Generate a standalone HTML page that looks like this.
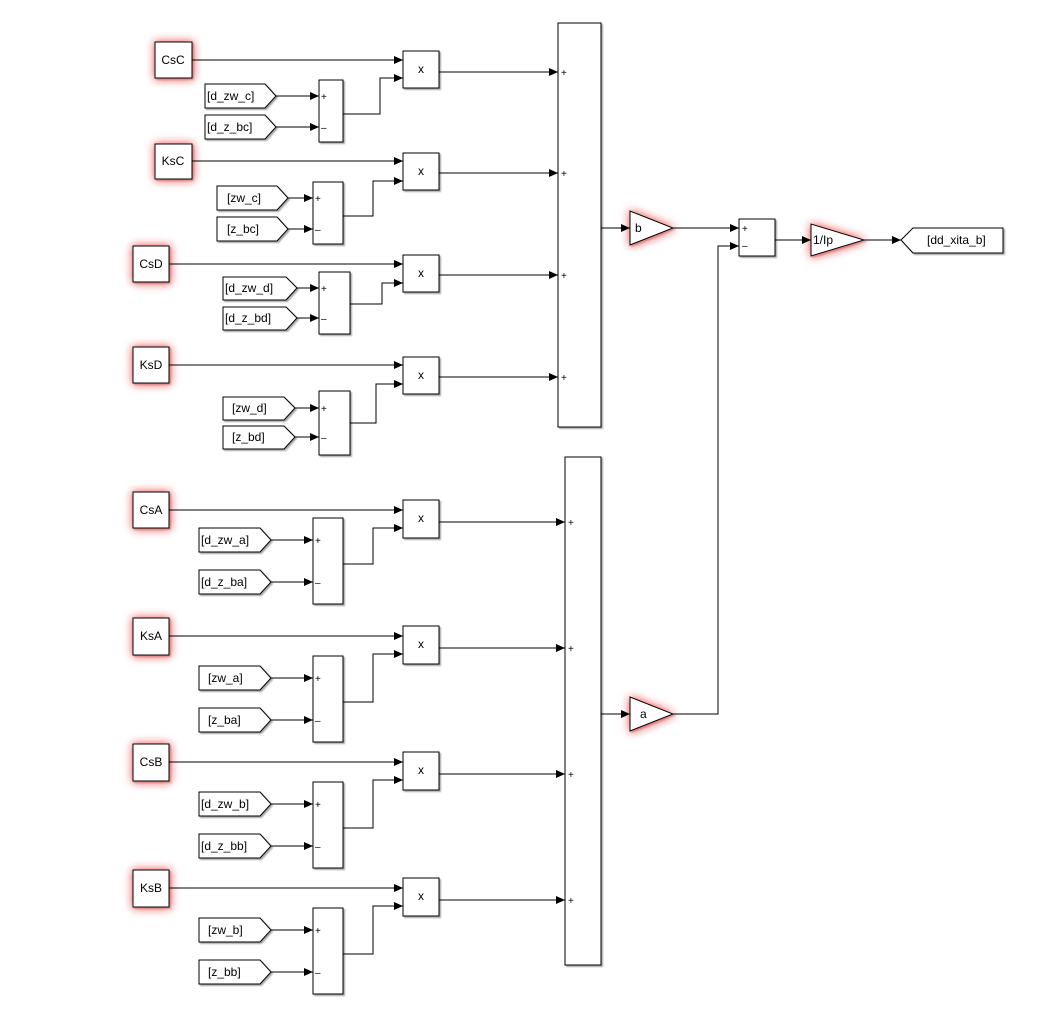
<!DOCTYPE html>
<html><head><meta charset="utf-8"><style>
html,body{margin:0;padding:0;background:#fff;}
svg{display:block;font-family:"Liberation Sans",Arial,sans-serif;}
.b{fill:#fff;stroke:#000;stroke-width:1;}
.l{fill:none;stroke:#000;stroke-width:1;}
.g{filter:url(#glow);}
text{font-size:12px;fill:#000;}
.s{font-size:10px;}
</style></head><body>
<svg width="1052" height="1023" viewBox="0 0 1052 1023" xmlns="http://www.w3.org/2000/svg">
<defs>
<marker id="a" markerUnits="userSpaceOnUse" markerWidth="10" markerHeight="10" refX="9" refY="5" orient="auto"><path d="M0,1 L9,5 L0,9 Z" fill="#000"/></marker>
<filter id="glow" x="-60%" y="-60%" width="220%" height="220%"><feDropShadow dx="0" dy="0" stdDeviation="4.5" flood-color="#ff2a2a" flood-opacity="0.75"/></filter>
<filter id="sh" x="-20%" y="-20%" width="150%" height="150%"><feDropShadow dx="1.5" dy="1.5" stdDeviation="0.8" flood-color="#000" flood-opacity="0.35"/></filter>
</defs>
<g filter="url(#sh)">
<rect class="b g" x="155" y="42" width="37" height="36"/><text x="173" y="64" text-anchor="middle">CsC</text>
<rect class="b" x="403" y="51" width="36" height="37"/><text x="421" y="73" text-anchor="middle">x</text>
<polygon class="b" points="205,84 265,84 276,96 265,108 205,108"/><text x="207" y="100">[d_zw_c]</text>
<polygon class="b" points="205,115 265,115 276,127 265,139 205,139"/><text x="207" y="131">[d_z_bc]</text>
<rect class="b" x="319" y="80" width="24" height="62"/><text class="s" x="321" y="100">+</text><text class="s" x="321" y="131">–</text>
<rect class="b g" x="155" y="144" width="37" height="35"/><text x="173" y="165" text-anchor="middle">KsC</text>
<rect class="b" x="403" y="153" width="36" height="37"/><text x="421" y="175" text-anchor="middle">x</text>
<polygon class="b" points="217,186 277,186 288,198 277,210 217,210"/><text x="227" y="202">[zw_c]</text>
<polygon class="b" points="217,217 277,217 288,229 277,241 217,241"/><text x="227" y="233">[z_bc]</text>
<rect class="b" x="313" y="182" width="30" height="62"/><text class="s" x="315" y="202">+</text><text class="s" x="315" y="233">–</text>
<rect class="b g" x="133" y="246" width="36" height="36"/><text x="151" y="268" text-anchor="middle">CsD</text>
<rect class="b" x="403" y="255" width="36" height="37"/><text x="421" y="277" text-anchor="middle">x</text>
<polygon class="b" points="223,277 286,277 297,288 286,300 223,300"/><text x="225" y="292">[d_zw_d]</text>
<polygon class="b" points="223,307 286,307 297,318 286,330 223,330"/><text x="225" y="322">[d_z_bd]</text>
<rect class="b" x="319" y="272" width="31" height="62"/><text class="s" x="321" y="292">+</text><text class="s" x="321" y="322">–</text>
<rect class="b g" x="133" y="347" width="36" height="36"/><text x="151" y="369" text-anchor="middle">KsD</text>
<rect class="b" x="403" y="357" width="36" height="37"/><text x="421" y="379" text-anchor="middle">x</text>
<polygon class="b" points="223,397 284,397 295,408 284,420 223,420"/><text x="232" y="412">[zw_d]</text>
<polygon class="b" points="223,426 284,426 295,437 284,449 223,449"/><text x="232" y="441">[z_bd]</text>
<rect class="b" x="319" y="391" width="31" height="64"/><text class="s" x="321" y="412">+</text><text class="s" x="321" y="441">–</text>
<rect class="b" x="558" y="23" width="43" height="404"/>
<text class="s" x="561" y="76">+</text><text class="s" x="561" y="177">+</text><text class="s" x="561" y="279">+</text><text class="s" x="561" y="381">+</text>
<polygon class="b g" points="630,211 630,245 673,228"/><text x="635" y="232">b</text>
<rect class="b" x="739" y="219" width="36" height="37"/><text class="s" x="742" y="232">+</text><text class="s" x="742" y="249">–</text>
<polygon class="b g" points="811,224 811,256 864,240"/><text x="813" y="244">1/Ip</text>
<polygon class="b" points="901,240 913,228 1003,228 1003,253 913,253"/><text x="927" y="244">[dd_xita_b]</text>
<rect class="b g" x="133" y="492" width="36" height="36"/><text x="151" y="514" text-anchor="middle">CsA</text>
<rect class="b" x="403" y="500" width="36" height="38"/><text x="421" y="522" text-anchor="middle">x</text>
<polygon class="b" points="199,528 260,528 271,540 260,552 199,552"/><text x="201" y="544">[d_zw_a]</text>
<polygon class="b" points="199,570 260,570 271,582 260,594 199,594"/><text x="201" y="586">[d_z_ba]</text>
<rect class="b" x="313" y="518" width="30" height="86"/><text class="s" x="315" y="544">+</text><text class="s" x="315" y="586">–</text>
<rect class="b g" x="133" y="618" width="36" height="37"/><text x="151" y="640" text-anchor="middle">KsA</text>
<rect class="b" x="403" y="626" width="36" height="38"/><text x="421" y="648" text-anchor="middle">x</text>
<polygon class="b" points="199,666 260,666 271,678 260,690 199,690"/><text x="208" y="682">[zw_a]</text>
<polygon class="b" points="199,708 260,708 271,720 260,732 199,732"/><text x="208" y="724">[z_ba]</text>
<rect class="b" x="313" y="656" width="30" height="86"/><text class="s" x="315" y="682">+</text><text class="s" x="315" y="724">–</text>
<rect class="b g" x="133" y="744" width="36" height="37"/><text x="151" y="766" text-anchor="middle">CsB</text>
<rect class="b" x="403" y="752" width="36" height="38"/><text x="421" y="774" text-anchor="middle">x</text>
<polygon class="b" points="199,792 260,792 271,804 260,816 199,816"/><text x="201" y="808">[d_zw_b]</text>
<polygon class="b" points="199,834 260,834 271,846 260,858 199,858"/><text x="201" y="850">[d_z_bb]</text>
<rect class="b" x="313" y="782" width="30" height="86"/><text class="s" x="315" y="808">+</text><text class="s" x="315" y="850">–</text>
<rect class="b g" x="133" y="870" width="36" height="37"/><text x="151" y="892" text-anchor="middle">KsB</text>
<rect class="b" x="403" y="878" width="36" height="38"/><text x="421" y="900" text-anchor="middle">x</text>
<polygon class="b" points="199,918 260,918 271,930 260,942 199,942"/><text x="208" y="934">[zw_b]</text>
<polygon class="b" points="199,960 260,960 271,972 260,984 199,984"/><text x="208" y="976">[z_bb]</text>
<rect class="b" x="313" y="908" width="30" height="86"/><text class="s" x="315" y="934">+</text><text class="s" x="315" y="976">–</text>
<rect class="b" x="565" y="457" width="36" height="508"/>
<text class="s" x="568" y="526">+</text><text class="s" x="568" y="652">+</text><text class="s" x="568" y="778">+</text><text class="s" x="568" y="904">+</text>
<polygon class="b g" points="630,697 630,731 673,714"/><text x="640" y="718">a</text>
</g>
<g class="l" marker-end="url(#a)">
<path d="M192,60 H403"/><path d="M276,96 H319"/><path d="M276,127 H319"/><path d="M343,114 H380 V78 H403"/><path d="M439,72 H558"/>
<path d="M192,161 H403"/><path d="M288,198 H313"/><path d="M288,229 H313"/><path d="M343,216 H373 V181 H403"/><path d="M439,173 H558"/>
<path d="M169,264 H403"/><path d="M297,288 H319"/><path d="M297,318 H319"/><path d="M350,304 H382 V283 H403"/><path d="M439,275 H558"/>
<path d="M169,365 H403"/><path d="M295,408 H319"/><path d="M295,437 H319"/><path d="M350,423 H376 V384 H403"/><path d="M439,377 H558"/>
<path d="M601,228 H630"/><path d="M673,228 H739"/><path d="M775,240 H811"/><path d="M864,240 H901"/>
<path d="M673,714 H718 V246 H739"/>
<path d="M601,714 H630"/>
<path d="M169,510 H403"/><path d="M271,540 H313"/><path d="M271,582 H313"/><path d="M343,564 H373 V528 H403"/><path d="M439,522 H565"/>
<path d="M169,636 H403"/><path d="M271,678 H313"/><path d="M271,720 H313"/><path d="M343,702 H373 V654 H403"/><path d="M439,648 H565"/>
<path d="M169,762 H403"/><path d="M271,804 H313"/><path d="M271,846 H313"/><path d="M343,828 H373 V780 H403"/><path d="M439,774 H565"/>
<path d="M169,888 H403"/><path d="M271,930 H313"/><path d="M271,972 H313"/><path d="M343,954 H373 V906 H403"/><path d="M439,900 H565"/>
</g>
</svg>
</body></html>
